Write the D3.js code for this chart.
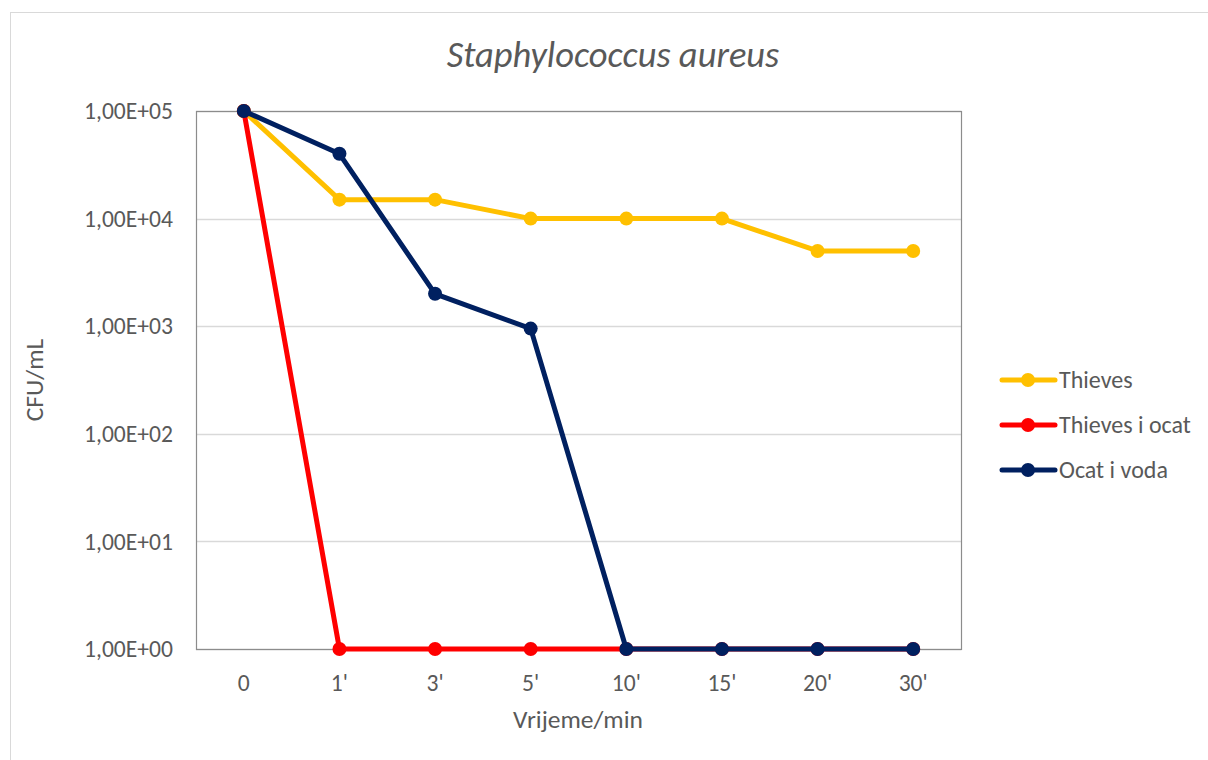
<!DOCTYPE html>
<html>
<head>
<meta charset="utf-8">
<script src="https://cdn.jsdelivr.net/npm/d3@7"></script>
<style>
  body { margin: 0; background: #fff; }
  text { font-family: Carlito, "Open Sans", "Liberation Sans", sans-serif; fill: #595959; }
</style>
</head>
<body>
<svg width="1208" height="760"></svg>
<script>
const times = ["0", "1'", "3'", "5'", "10'", "15'", "20'", "30'"];
const seriesNames = ["Thieves", "Thieves i ocat", "Ocat i voda"];
const seriesColors = ["#ffc000", "#ff0000", "#002060"];
const thieves = [100000, 15000, 15000, 10000, 10000, 10000, 5000, 5000];
const thievesOcat = [100000, 1, 1, 1, 1, 1, 1, 1];
const ocatVoda = [100000, 40000, 2000, 950, 1, 1, 1, 1];
const yTicks = [1, 10, 100, 1000, 10000, 100000];

const svg = d3.select("svg");
const plot = {left: 196, right: 961, top: 111, bottom: 649};

// outer chart frame
svg.append("rect")
  .attr("x", 10.5).attr("y", 12.5)
  .attr("width", 1210).attr("height", 760)
  .attr("fill", "none").attr("stroke", "#d9d9d9");

const x = d3.scaleBand().domain(times).range([plot.left, plot.right]);
const y = d3.scaleLog().domain([1, 100000]).range([plot.bottom, plot.top]);

// gridlines
svg.append("g")
  .selectAll("line")
  .data(yTicks)
  .join("line")
  .attr("x1", plot.left).attr("x2", plot.right)
  .attr("y1", d => Math.round(y(d)) + 0.5).attr("y2", d => Math.round(y(d)) + 0.5)
  .attr("stroke", "#d9d9d9").attr("stroke-width", 1.5);

// plot area border
svg.append("rect")
  .attr("x", plot.left + 0.5).attr("y", plot.top + 0.5)
  .attr("width", plot.right - plot.left).attr("height", plot.bottom - plot.top)
  .attr("fill", "none").attr("stroke", "#8c8c8c").attr("stroke-width", 1.2);

// y axis labels
const fmt = d => {
  const e = Math.round(Math.log10(d));
  return "1,00E+" + String(e).padStart(2, "0");
};
const yAxis = d3.axisLeft(y).tickValues(yTicks).tickFormat(fmt).tickSize(0).tickPadding(23);
const yg = svg.append("g").attr("transform", `translate(${plot.left},0)`).call(yAxis);
yg.select(".domain").remove();
yg.selectAll("text").attr("font-size", 23.6).style("font-family", null).attr("dy", "0.33em");

// x axis labels
const xAxis = d3.axisBottom(x).tickSize(0).tickPadding(25);
const xg = svg.append("g").attr("transform", `translate(0,${plot.bottom})`).call(xAxis);
xg.select(".domain").remove();
xg.selectAll("text").attr("font-size", 23.6).style("font-family", null);

// axis titles
svg.append("text")
  .attr("transform", `translate(43,380) rotate(-90)`)
  .attr("text-anchor", "middle")
  .attr("font-size", 25.5)
  .text("CFU/mL");
svg.append("text")
  .attr("x", 578).attr("y", 728)
  .attr("text-anchor", "middle")
  .attr("font-size", 25.5)
  .text("Vrijeme/min");

// title
svg.append("text")
  .attr("x", 613).attr("y", 67)
  .attr("text-anchor", "middle")
  .attr("font-size", 36.5)
  .attr("font-style", "italic")
  .text("Staphylococcus aureus");

// series
const allSeries = [thieves, thievesOcat, ocatVoda];
const line = d3.line()
  .x((d, i) => x(times[i]) + x.bandwidth() / 2)
  .y(d => y(d));

allSeries.forEach((vals, k) => {
  const g = svg.append("g");
  g.append("path")
    .datum(vals)
    .attr("d", line)
    .attr("fill", "none")
    .attr("stroke", seriesColors[k])
    .attr("stroke-width", 5)
    .attr("stroke-linejoin", "round");
  g.selectAll("circle")
    .data(vals)
    .join("circle")
    .attr("cx", (d, i) => x(times[i]) + x.bandwidth() / 2)
    .attr("cy", d => y(d))
    .attr("r", 7)
    .attr("fill", seriesColors[k]);
});

// legend
const legend = svg.append("g").attr("transform", "translate(1000,380)");
seriesNames.forEach((name, k) => {
  const row = legend.append("g").attr("transform", `translate(0,${k * 45})`);
  row.append("line")
    .attr("x1", 2).attr("x2", 55)
    .attr("stroke", seriesColors[k]).attr("stroke-width", 5)
    .attr("stroke-linecap", "round");
  row.append("circle").attr("cx", 28).attr("cy", 0).attr("r", 7).attr("fill", seriesColors[k]);
  row.append("text")
    .attr("x", 59).attr("y", 0).attr("dy", "0.33em")
    .attr("font-size", 24)
    .text(name);
});
</script>
</body>
</html>
